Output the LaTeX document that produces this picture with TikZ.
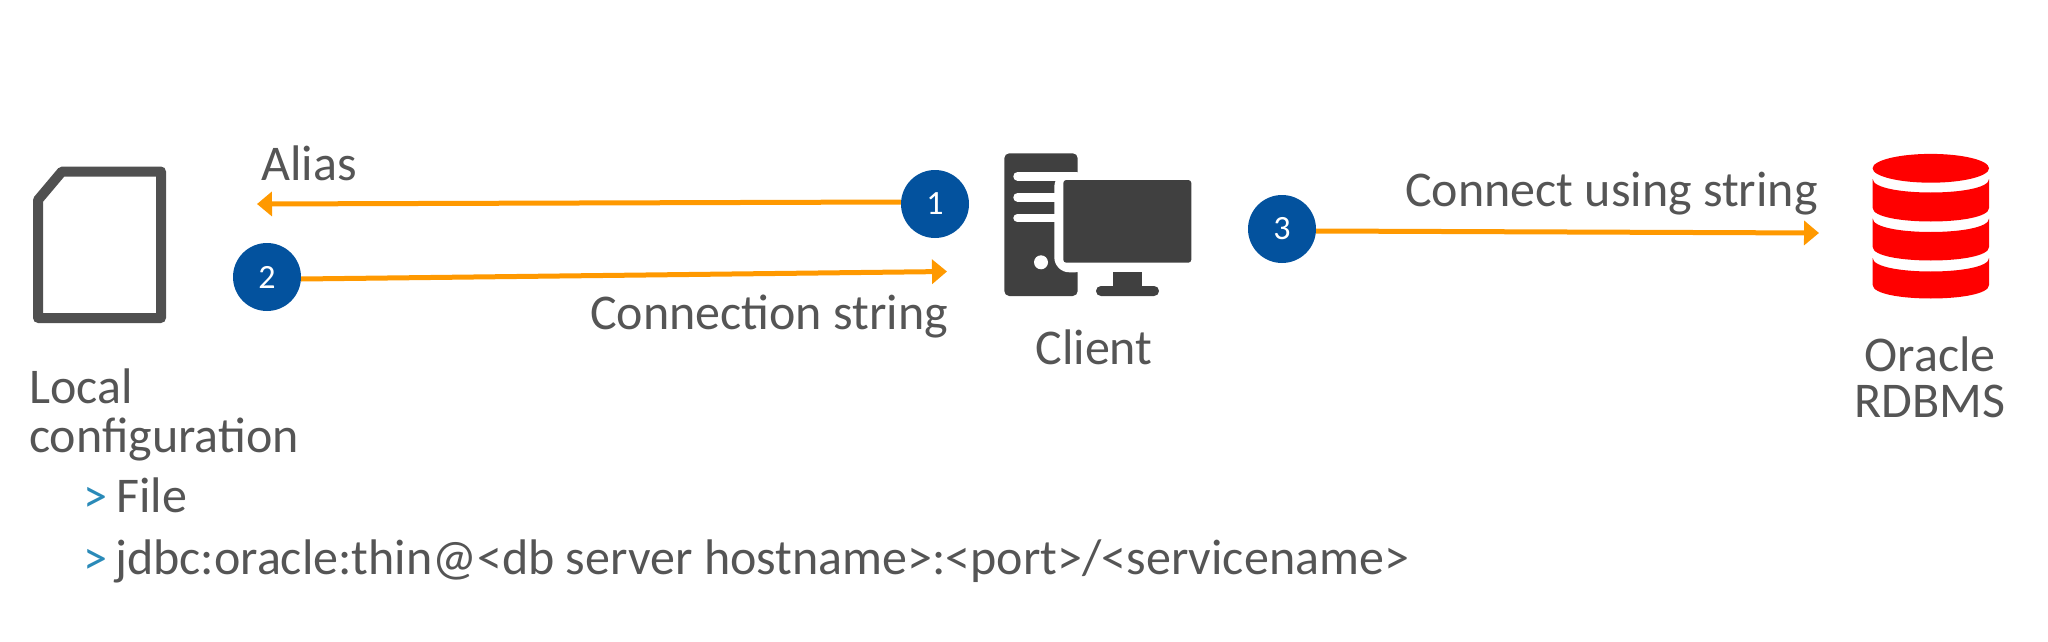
\documentclass[tikz,border=0pt]{standalone}
\usepackage{fontspec}
\setmainfont{Carlito}
\usetikzlibrary{arrows.meta}
\definecolor{txt}{HTML}{555555}
\definecolor{filec}{HTML}{505050}
\definecolor{dark}{HTML}{404040}
\definecolor{bluec}{HTML}{03529E}
\definecolor{org}{HTML}{FF9900}
\definecolor{bul}{HTML}{2A8AB8}
\definecolor{dbred}{HTML}{FF0000}
\begin{document}
\begin{tikzpicture}[x=1pt,y=-1pt,
 lbl/.style={inner sep=0pt,text=txt,font=\fontsize{50}{46}\selectfont,anchor=base west},
 bull/.style={inner sep=0pt,text=bul,font=\fontsize{48}{48}\selectfont,anchor=base west},
 num/.style={circle,fill=bluec,minimum size=68pt,inner sep=0pt,text=white,font=\fontsize{34}{34}\selectfont},
 arr/.style={draw=org,line width=5pt,-{Triangle[length=15pt,width=24pt]}},
 slot/.style={draw=white,line width=8.7pt,line cap=round}]
\useasboundingbox (0,0) rectangle (2048,642);
% file icon
\draw[line width=10pt,draw=filec,line join=round] (38,318) -- (38,200) -- (62,171.5) -- (161,171.5) -- (161,318) -- cycle;
% client icon
\fill[dark,rounded corners=5pt] (1004.3,153.3) rectangle (1077.7,296);
\fill[white,rounded corners=15pt] (1054.3,172) -- (1054.3,272.3) -- (1090,272.3) -- (1090,172) -- cycle;
\draw[slot] (1017.6,176.3) -- (1070,176.3);
\draw[slot] (1017.6,197.3) -- (1058,197.3);
\draw[slot] (1017.6,218) -- (1058,218);
\fill[white] (1041,262.3) circle[radius=7pt];
\fill[dark,rounded corners=3pt] (1063.3,180) rectangle (1191.3,262.7);
\fill[dark] (1113.3,272.3) rectangle (1142.3,287);
\fill[dark,rounded corners=4.9pt] (1096,286) rectangle (1159,296);
% database icon
\fill[dbred] (1930.8,168.3) ellipse[x radius=58.2pt,y radius=14.4pt];
\fill[dbred] (1872.7,179) .. controls (1872.7,197) and (1989,197) .. (1989,179) -- (1989,208) .. controls (1989,226) and (1872.7,226) .. (1872.7,208) -- cycle;
\fill[dbred] (1872.7,218.5) .. controls (1872.7,236.5) and (1989,236.5) .. (1989,218.5) -- (1989,247) .. controls (1989,265) and (1872.7,265) .. (1872.7,247) -- cycle;
\fill[dbred] (1872.7,258) .. controls (1872.7,276) and (1989,276) .. (1989,258) -- (1989,285) .. controls (1989,303) and (1872.7,303) .. (1872.7,285) -- cycle;
% badges and connectors
\node[num] (n1) at (935,204) {1};
\node[num] (n2) at (267,277) {2};
\node[num] (n3) at (1282,229) {3};
\coordinate (a1) at (257,204);
\coordinate (a2) at (947,271.5);
\coordinate (a3) at (1819,233);
\draw[arr] ([yshift=2pt]n1.west) -- (a1);
\draw[arr] ([yshift=-2pt]n2.east) -- (a2);
\draw[arr] ([yshift=-2pt]n3.east) -- (a3);
% labels
\node[lbl] (t1) at (261,180) {Alias};
\node[lbl] (t2) at (590,329) {Connection string};
\node[lbl] (t3) at (1405,206) {Connect using string};
\node[lbl,anchor=base] (t4) at (1094,364) {Client};
\node[lbl,anchor=base] (t5) at (1930,371) {Oracle};
\node[lbl,anchor=base] (t5b) at (1930,417) {RDBMS};
\node[lbl] (t6) at (29,403) {Local};
\node[lbl] (t7) at (29,452) {configuration};
\node[lbl] (t8) at (116,512) {File};
\node[lbl] (t9) at (115,574) {jdbc:oracle:thin@<db server hostname>:<port>/<servicename>};
\node[bull] (b1) at (83,512) {>};
\node[bull] (b2) at (83,574) {>};
\end{tikzpicture}
\end{document}
